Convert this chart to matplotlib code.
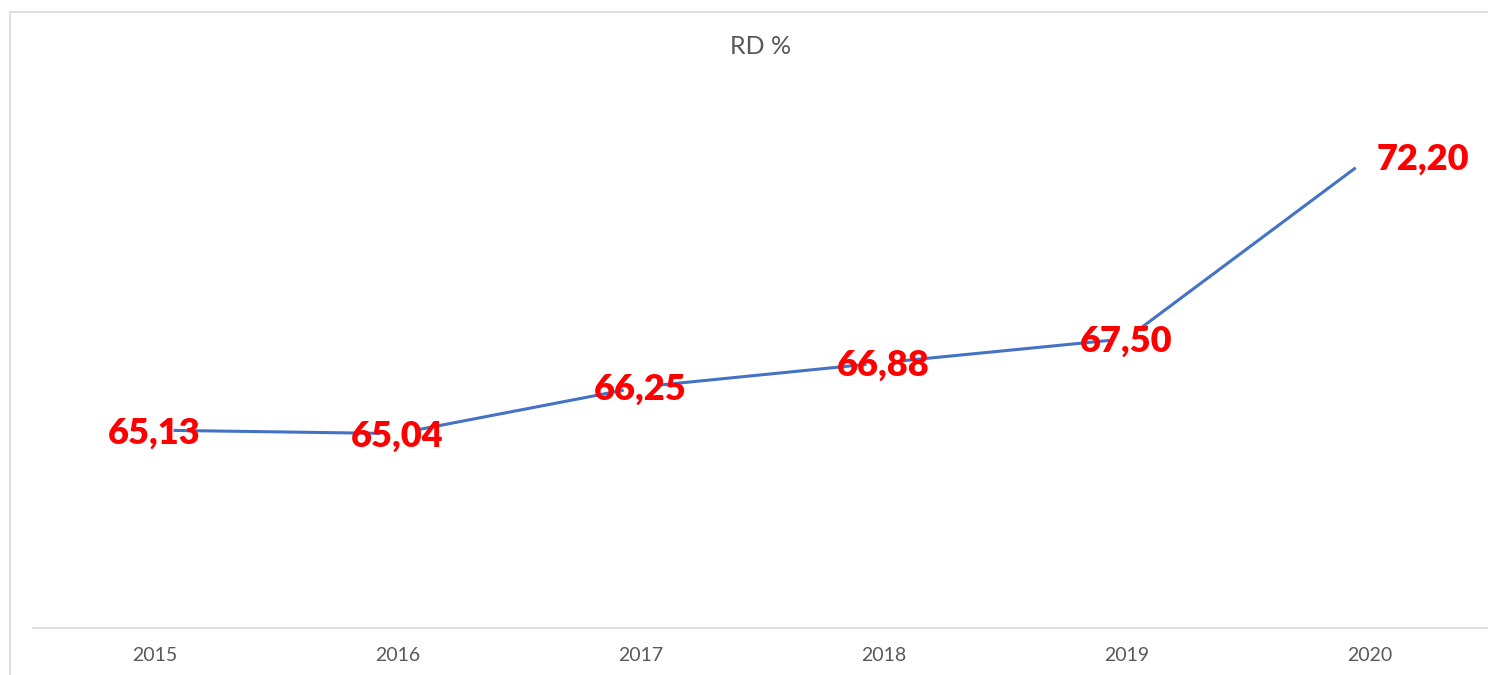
import matplotlib
matplotlib.use("Agg")
import matplotlib.pyplot as plt
from matplotlib.patches import Rectangle

years = ["2015", "2016", "2017", "2018", "2019", "2020"]
values = [65.13, 65.04, 66.25, 66.88, 67.50, 72.20]
labels = ["65,13", "65,04", "66,25", "66,88", "67,50", "72,20"]
title = "RD %"

W, H = 1488, 675
fig = plt.figure(figsize=(W / 100, H / 100), dpi=100)

# chart border
fig.patches.append(Rectangle((10 / W, -0.1), 1.2, (H - 12) / H + 0.1,
                             transform=fig.transFigure, fill=False,
                             edgecolor="#D9D9D9", linewidth=1.2))

left, right, bottom, top = 33, 1491, 628, 88
ax = fig.add_axes([left / W, 1 - bottom / H, (right - left) / W, (bottom - top) / H])
x = list(range(len(years)))
ax.plot(x, values, color="#4472C4", linewidth=2.2, zorder=2)
ax.plot(x, values, linestyle="none", marker="o", markersize=26,
        markerfacecolor="white", markeredgecolor="none", zorder=3)
ax.set_xlim(-0.5, len(years) - 0.5)
ax.set_ylim(60, 74)

for i, (v, lab) in enumerate(zip(values, labels)):
    if i == len(values) - 1:
        ax.annotate(lab, (i, v), xytext=(5, -1), textcoords="offset points",
                    ha="left", va="center", color="#FF0000", fontsize=26,
                    fontweight="heavy", family="Lato", zorder=5)
    else:
        ax.annotate(lab, (i, v), xytext=(0, -2), textcoords="offset points",
                    ha="center", va="center", color="#FF0000", fontsize=26,
                    fontweight="heavy", family="Lato", zorder=5)

ax.set_xticks(x)
ax.set_xticklabels(years, family="Lato", fontsize=14, color="#595959")
ax.tick_params(axis="x", length=0, pad=14)
ax.set_yticks([])
for s in ["left", "right", "top"]:
    ax.spines[s].set_visible(False)
ax.spines["bottom"].set_color("#D9D9D9")
ax.spines["bottom"].set_linewidth(1.2)

fig.text(761 / W, 1 - 46 / H, title, ha="center", va="center",
         family="Lato", fontsize=18, color="#595959")

fig.savefig("out.png", dpi=100)
